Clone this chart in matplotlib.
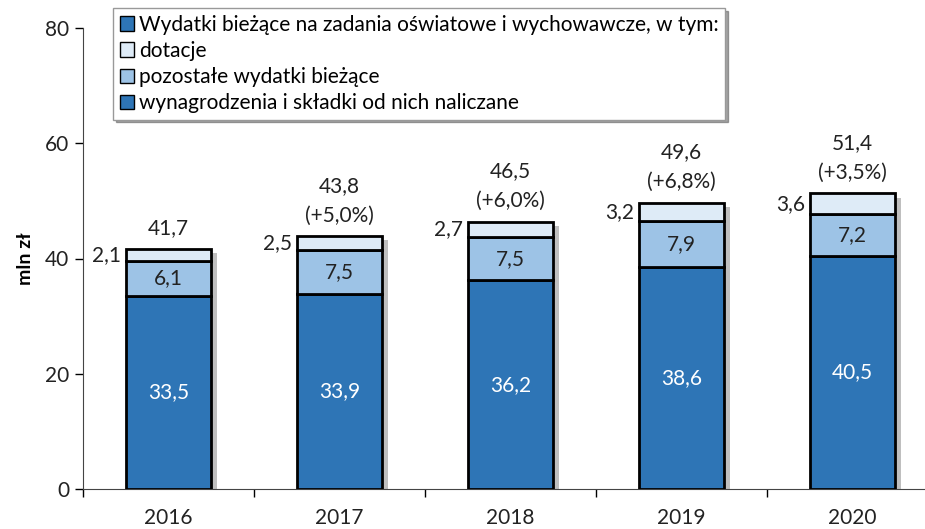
import numpy as np
import matplotlib.pyplot as plt
import matplotlib.patheffects as pe
from matplotlib.patches import Patch

plt.rcParams['font.family'] = ['Lato', 'DejaVu Sans']

years = ['2016', '2017', '2018', '2019', '2020']
wynagrodzenia = [33.5, 33.9, 36.2, 38.6, 40.5]
pozostale = [6.1, 7.5, 7.5, 7.9, 7.2]
dotacje = [2.1, 2.5, 2.7, 3.2, 3.6]
totals = ['41,7', '43,8', '46,5', '49,6', '51,4']
growth = [None, '+5,0%', '+6,0%', '+6,8%', '+3,5%']

c_dark = '#2E75B6'
c_mid = '#9DC3E6'
c_light = '#DEEBF7'

fig = plt.figure(figsize=(9.25, 5.29), dpi=100)
ax = fig.add_axes([83 / 925, 40 / 529, 855 / 925, 461 / 529])

x = np.arange(len(years))
w = 0.5
shadow = [pe.SimplePatchShadow(offset=(4, -3), shadow_rgbFace='gray', alpha=0.5), pe.Normal()]

ax.bar(x, wynagrodzenia, w, color=c_dark, edgecolor='black', linewidth=2, zorder=3)
bottom2 = np.array(wynagrodzenia)
ax.bar(x, pozostale, w, bottom=bottom2, color=c_mid, edgecolor='black', linewidth=2, zorder=3)
bottom3 = bottom2 + np.array(pozostale)
ax.bar(x, dotacje, w, bottom=bottom3, color=c_light, edgecolor='black', linewidth=2, zorder=3)
tops = bottom3 + np.array(dotacje)

# shadow behind whole stack
ax.bar(x, tops, w, color='white', edgecolor='none', zorder=2, path_effects=shadow)

fs = 15
txt = '#222222'
for i in range(len(years)):
    ax.text(x[i], wynagrodzenia[i] / 2, f"{wynagrodzenia[i]:.1f}".replace('.', ','),
            ha='center', va='center', color='white', fontsize=fs, zorder=4)
    ax.text(x[i], bottom2[i] + pozostale[i] / 2, f"{pozostale[i]:.1f}".replace('.', ','),
            ha='center', va='center', color=txt, fontsize=fs, zorder=4)
    ax.text(x[i] - w / 2 - 0.025, bottom3[i] + dotacje[i] / 2, f"{dotacje[i]:.1f}".replace('.', ','),
            ha='right', va='center', color=txt, fontsize=fs, zorder=4)
    if growth[i] is None:
        ax.text(x[i], tops[i] + 1.8, totals[i], ha='center', va='bottom', fontsize=fs, color=txt)
    else:
        ax.text(x[i], tops[i] + 1.8, f"({growth[i]})", ha='center', va='bottom', fontsize=fs, color=txt)
        ax.text(x[i], tops[i] + 7.0, totals[i], ha='center', va='bottom', fontsize=fs, color=txt)

ax.set_xlim(-0.5, len(years) - 0.5)
ax.set_ylim(0, 80)
ax.set_yticks([0, 20, 40, 60, 80])
ax.set_xticks(x)
ax.set_xticklabels(years)
ax.set_xticks(np.arange(-0.5, len(years)), minor=True)
ax.tick_params(axis='x', which='major', length=0, labelsize=fs, pad=14)
ax.tick_params(axis='x', which='minor', length=6, width=1)
ax.tick_params(axis='y', length=6, width=1, labelsize=fs, pad=4, labelcolor=txt)
ax.tick_params(axis='x', labelcolor=txt)
ax.spines['top'].set_visible(False)
ax.spines['right'].set_visible(False)
ax.spines['left'].set_color('#444444')
ax.spines['bottom'].set_color('#444444')
ax.set_ylabel('mln zł', fontsize=14, fontweight='bold', labelpad=8)

handles = [
    Patch(facecolor=c_dark, edgecolor='black'),
    Patch(facecolor=c_light, edgecolor='black'),
    Patch(facecolor=c_mid, edgecolor='black'),
    Patch(facecolor=c_dark, edgecolor='black'),
]
labels = [
    'Wydatki bieżące na zadania oświatowe i wychowawcze, w tym:',
    'dotacje',
    'pozostałe wydatki bieżące',
    'wynagrodzenia i składki od nich naliczane',
]
leg = ax.legend(handles, labels, loc='upper left', bbox_to_anchor=(20 / 855, 1.065),
                fontsize=fs, frameon=True, fancybox=False, shadow=True,
                handlelength=0.7, handleheight=0.7, handletextpad=0.25,
                labelspacing=0.3, borderpad=0.3, edgecolor='#999999')
leg.set_zorder(5)

fig.savefig('out.png', dpi=100)
